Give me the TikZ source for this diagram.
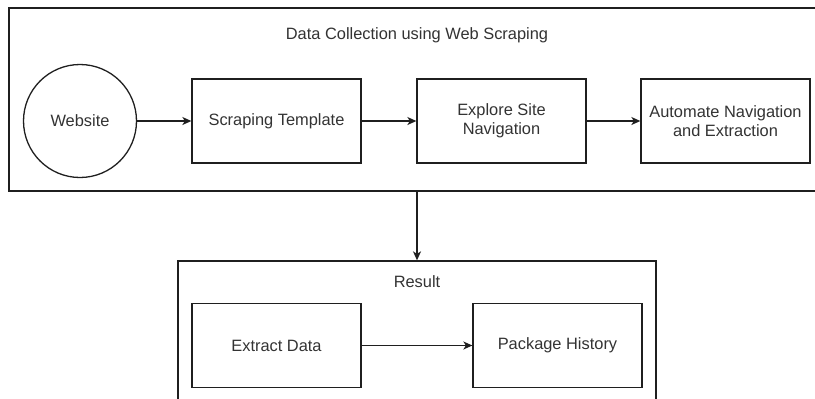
\documentclass[tikz,border=0pt]{standalone}
\usepackage{fontspec}
\setmainfont{Liberation Sans}
\usepackage{xcolor}
\usepackage{tikz}
\usetikzlibrary{arrows.meta}
\definecolor{boxdraw}{HTML}{1F1F1F}
\definecolor{textcolor}{HTML}{333333}
\tikzset{
  >={Stealth[length=9pt,width=8pt,inset=2.5pt]},
  group box/.style={
    rectangle,
    draw=boxdraw,
    fill=white,
    line width=1.3pt,
    inner sep=0pt
  },
  stage box/.style={
    rectangle,
    draw=boxdraw,
    fill=white,
    line width=1.3pt,
    minimum width=169pt,
    minimum height=84pt,
    inner sep=0pt,
    align=center,
    text=textcolor,
    font=\fontsize{16.4}{19}\selectfont
  },
  source node/.style={
    circle,
    draw=boxdraw,
    fill=white,
    line width=1.3pt,
    minimum size=113pt,
    inner sep=0pt,
    text=textcolor,
    font=\fontsize{16.4}{19}\selectfont
  },
  group title/.style={
    text=textcolor,
    font=\fontsize{16.4}{19}\selectfont
  },
  flow/.style={
    draw=boxdraw,
    line width=1.3pt,
    ->
  }
}

\begin{document}
\begin{tikzpicture}[x=1pt,y=-1pt]
  \useasboundingbox (0,0) rectangle (815,399);
  \clip (0,0) rectangle (815,399);

  % outer groups
  \node[group box,minimum width=816pt,minimum height=183pt] (collect) at (417,99.5) {};
  \node[group box,minimum width=478pt,minimum height=178pt] (result) at (417,350) {};
  \node[group title] (collect-title) at (417,35) {Data Collection using Web Scraping};
  \node[group title] (result-title) at (417,282) {Result};

  % scraping steps
  \node[source node] (web) at (80,121) {Website};
  \node[stage box] (template) at (276.5,121) {Scraping Template};
  \node[stage box] (explore) at (501.5,121) {Explore Site\\Navigation};
  \node[stage box] (automate) at (725.5,121) {Automate Navigation\\and Extraction};

  % result steps
  \node[stage box] (extract) at (276.5,345.5) {Extract Data};
  \node[stage box] (history) at (557.5,345.5) {Package History};

  \draw[flow] (web) -- (template);
  \draw[flow] (template) -- (explore);
  \draw[flow] (explore) -- (automate);
  \draw[flow] (collect.south) -- (result.north);
  \draw[flow] (extract) -- (history);
\end{tikzpicture}
\end{document}
